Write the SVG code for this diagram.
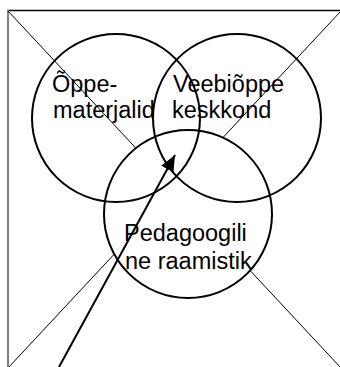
<svg xmlns="http://www.w3.org/2000/svg" width="340" height="367" viewBox="0 0 340 367">
<style>
.frame{stroke:#000;stroke-width:1;fill:none}
.circ{stroke:#000;stroke-width:2}
.lbl{font-family:"Liberation Sans",Arial,sans-serif;font-size:23.5px;fill:#000}
.conn{stroke:#000;stroke-width:2;fill:none}
</style>
<defs>
<marker id="arrow" markerUnits="userSpaceOnUse" markerWidth="18" markerHeight="14" refX="16" refY="7" orient="auto">
<path d="M0,0 L16,7 L0,14 Z" fill="#000"/>
</marker>
</defs>
<rect width="340" height="367" fill="#fff"/>
<g id="frame">
<line x1="7" y1="10.5" x2="341" y2="10.5" stroke="#000" stroke-width="1.5"/>
<line x1="8" y1="10" x2="8" y2="367" stroke="#808080" stroke-width="2"/>
<line class="frame" x1="8" y1="11" x2="341" y2="368"/>
<line class="frame" x1="341" y1="11" x2="8" y2="368"/>
</g>
<g id="node-pedagoogiline">
<circle class="circ" cx="188" cy="214" r="84" fill="#fff"/>
<text class="lbl" x="124" y="241">Pedagoogili</text>
<text class="lbl" x="125" y="269">ne raamistik</text>
</g>
<g id="node-oppematerjalid">
<circle class="circ" cx="116" cy="118" r="84" fill="none"/>
<text class="lbl" x="52" y="92">Õppe-</text>
<text class="lbl" x="53" y="118">materjalid</text>
</g>
<g id="node-veebioppe">
<circle class="circ" cx="237" cy="118" r="84" fill="none"/>
<text class="lbl" x="173" y="92">Veebiõppe</text>
<text class="lbl" x="172" y="118">keskkond</text>
</g>
<g id="connectors">
<line class="conn" x1="59" y1="367" x2="175" y2="155" marker-end="url(#arrow)"/>
</g>
</svg>
